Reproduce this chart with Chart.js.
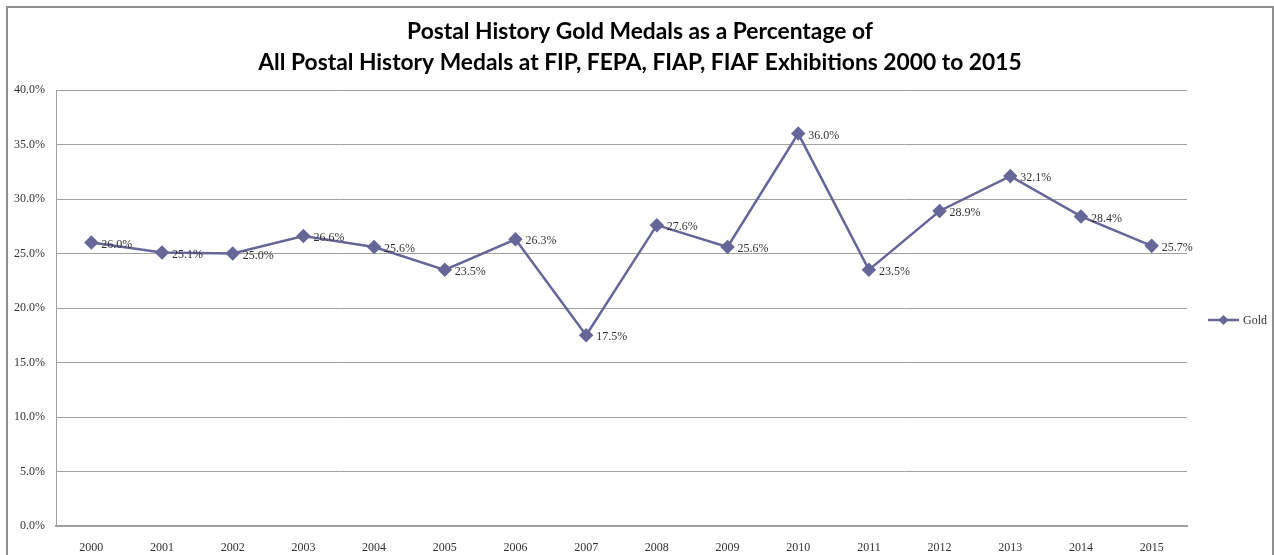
<!DOCTYPE html>
<html>
<head>
<meta charset="utf-8">
<script src="https://cdn.jsdelivr.net/npm/chart.js@4"></script>
<style>
  html, body { margin: 0; padding: 0; background: #fff; }
  #wrap { width: 1274px; height: 555px; }
</style>
</head>
<body>
<div id="wrap"><canvas id="goldChart"></canvas></div>
<script>
const years = ['2000', '2001', '2002', '2003', '2004', '2005', '2006', '2007',
               '2008', '2009', '2010', '2011', '2012', '2013', '2014', '2015'];
const goldPct = [26.0, 25.1, 25.0, 26.6, 25.6, 23.5, 26.3, 17.5,
                 27.6, 25.6, 36.0, 23.5, 28.9, 32.1, 28.4, 25.7];
const titleLines = ['Postal History Gold Medals as a Percentage of',
                    'All Postal History Medals at FIP, FEPA, FIAP, FIAF Exhibitions 2000 to 2015'];
const seriesName = 'Gold';

const lineColor = '#666699';
const gridColor = '#a0a0a0';
const serif = '"Liberation Serif", "DejaVu Serif", serif';
const titleFont = 'Lato, "Open Sans", sans-serif';

// frame, title, point labels and legend are drawn here
const excelBits = {
    id: 'excelBits',
    beforeDraw(chart) {
        const ctx = chart.ctx;
        ctx.save();
        ctx.fillStyle = '#fff';
        ctx.fillRect(0, 0, chart.width, chart.height);
        ctx.strokeStyle = '#8f8f8f';
        ctx.lineWidth = 2;
        ctx.strokeRect(7, 7, chart.width - 8, chart.height + 20);
        ctx.restore();
    },
    afterDatasetsDraw(chart) {
        const ctx = chart.ctx;
        const meta = chart.getDatasetMeta(0);
        ctx.save();
        ctx.font = '12px ' + serif;
        ctx.fillStyle = '#333';
        ctx.textBaseline = 'middle';
        ctx.textAlign = 'left';
        meta.data.forEach((pt, i) => {
            ctx.fillText(goldPct[i].toFixed(1) + '%', pt.x + 10, pt.y + 2);
        });
        ctx.restore();
    },
    afterDraw(chart) {
        const ctx = chart.ctx;
        ctx.save();
        // title, sized so the long line is about as wide as in the original
        ctx.font = 'bold 20px ' + titleFont;
        const size = 20 * 765 / ctx.measureText(titleLines[1]).width;
        ctx.font = 'bold ' + size.toFixed(1) + 'px ' + titleFont;
        ctx.fillStyle = '#000';
        ctx.textAlign = 'center';
        ctx.textBaseline = 'middle';
        titleLines.forEach((t, i) => ctx.fillText(t, 640, 32 + i * 31));
        // legend
        const ly = 320;
        ctx.strokeStyle = lineColor;
        ctx.lineWidth = 2.5;
        ctx.beginPath();
        ctx.moveTo(1208, ly);
        ctx.lineTo(1239, ly);
        ctx.stroke();
        ctx.fillStyle = lineColor;
        ctx.beginPath();
        ctx.moveTo(1223.5, ly - 5);
        ctx.lineTo(1228.5, ly);
        ctx.lineTo(1223.5, ly + 5);
        ctx.lineTo(1218.5, ly);
        ctx.closePath();
        ctx.fill();
        ctx.font = '12px ' + serif;
        ctx.fillStyle = '#333';
        ctx.textAlign = 'left';
        ctx.fillText(seriesName, 1243, ly + 1);
        ctx.restore();
    }
};

const ctx = document.getElementById('goldChart').getContext('2d');
new Chart(ctx, {
    type: 'line',
    data: {
        labels: years,
        datasets: [{
            label: seriesName,
            data: goldPct,
            borderColor: lineColor,
            backgroundColor: lineColor,
            borderWidth: 2.5,
            pointStyle: 'rectRot',
            pointRadius: 5.5,
            pointHoverRadius: 5.5,
            tension: 0
        }]
    },
    options: {
        responsive: true,
        maintainAspectRatio: false,
        animation: false,
        layout: { padding: { left: 0, right: 87, top: 90, bottom: 0 } },
        plugins: {
            legend: { display: false },
            title: { display: false },
            tooltip: { enabled: false }
        },
        scales: {
            x: {
                offset: true,
                grid: { display: false, drawTicks: false },
                border: { display: true, color: gridColor, width: 2 },
                ticks: { color: '#333', font: { family: serif, size: 12 }, padding: 15, maxRotation: 0 },
                afterFit: s => { s.height = 29; }
            },
            y: {
                min: 0,
                max: 40,
                grid: { color: gridColor, drawTicks: false },
                border: { display: true, color: gridColor, width: 1 },
                ticks: {
                    stepSize: 5,
                    color: '#333',
                    font: { family: serif, size: 12 },
                    padding: 11,
                    callback: v => v.toFixed(1) + '%'
                },
                afterFit: s => { s.width = 56; }
            }
        }
    },
    plugins: [excelBits]
});
</script>
</body>
</html>
